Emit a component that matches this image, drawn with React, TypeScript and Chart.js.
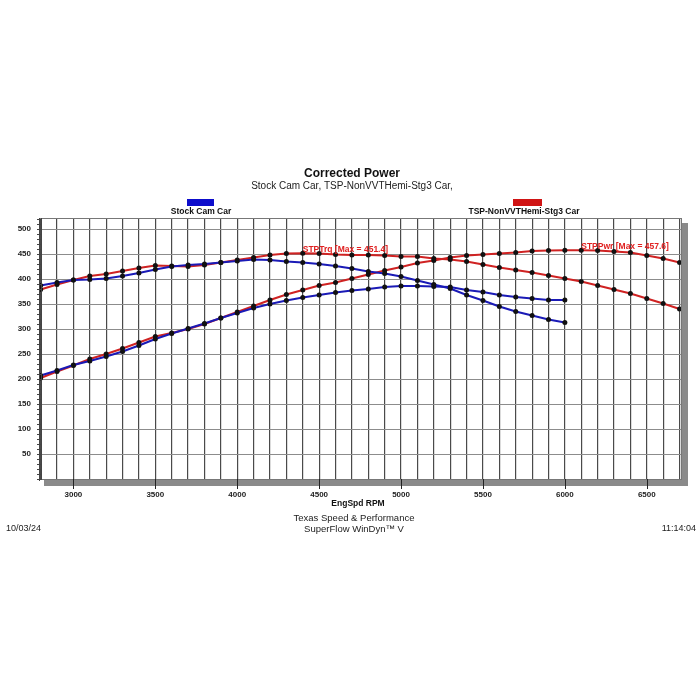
import React, { useEffect, useRef } from 'react';
import { Chart, registerables } from 'chart.js';

Chart.register(...registerables);

const FONT = '"Liberation Sans", Arial, sans-serif';

const titleText = 'Corrected Power';
const subtitleText = 'Stock Cam Car, TSP-NonVVTHemi-Stg3 Car,';
const carNames = ['Stock Cam Car', 'TSP-NonVVTHemi-Stg3 Car'];
const carColors = ['#1a1ab6', '#cf2222'];
const xAxisTitle = 'EngSpd RPM';
const footerLines = ['Texas Speed & Performance', 'SuperFlow WinDyn\u2122 V'];
const footerDate = '10/03/24';
const footerTime = '11:14:04';
const maxLabelNames = ['STPTrq', 'STPPwr'];

const rpmStock = [
  2800, 2900, 3000, 3100, 3200, 3300, 3400, 3500, 3600, 3700, 3800, 3900, 4000,
  4100, 4200, 4300, 4400, 4500, 4600, 4700, 4800, 4900, 5000, 5100, 5200, 5300,
  5400, 5500, 5600, 5700, 5800, 5900, 6000,
];
const stockTorque = [
  387, 393, 398, 399, 401, 406, 412, 419, 425, 428, 430, 433, 436,
  439, 438, 435, 433, 430, 426, 421, 415, 411, 405, 397, 389, 381,
  368, 357, 345, 335, 327, 319, 313,
];
const stockPower = [
  207, 217, 228, 236, 245, 255, 267, 280, 291, 301, 311, 322, 332,
  342, 350, 357, 363, 368, 373, 377, 380, 384, 386, 386, 385, 384,
  378, 374, 368, 364, 361, 358, 358,
];

const rpmTsp = [
  2800, 2900, 3000, 3100, 3200, 3300, 3400, 3500, 3600, 3700, 3800, 3900, 4000,
  4100, 4200, 4300, 4400, 4500, 4600, 4700, 4800, 4900, 5000, 5100, 5200, 5300,
  5400, 5500, 5600, 5700, 5800, 5900, 6000, 6100, 6200, 6300, 6400, 6500, 6600,
  6700,
];
const tspTorque = [
  379, 389, 398, 406, 410, 416, 422, 427, 426, 425, 428, 433, 438,
  443, 448, 451, 451.4, 451, 449, 448, 448, 447, 445, 445, 441, 439,
  435, 429, 423, 418, 413, 407, 401, 395, 387, 379, 371, 361, 351,
  340,
];
const tspPower = [
  202, 215, 227, 240, 250, 261, 273, 285, 292, 300, 310, 322, 334,
  346, 358, 369, 378, 387, 393, 401, 409, 417, 424, 432, 437, 443,
  447, 449, 451, 453, 456, 457.2, 457.4, 457.6, 457, 455, 453, 447, 441,
  433,
];

const xGridTicks = [
  2800, 2900, 3000, 3100, 3200, 3300, 3400, 3500, 3600, 3700, 3800, 3900, 4000,
  4100, 4200, 4300, 4400, 4500, 4600, 4700, 4800, 4900, 5000, 5100, 5200, 5300,
  5400, 5500, 5600, 5700, 5800, 5900, 6000, 6100, 6200, 6300, 6400, 6500, 6600,
  6700,
];
const xLabelTicks = [3000, 3500, 4000, 4500, 5000, 5500, 6000, 6500];
const yTicks = [0, 50, 100, 150, 200, 250, 300, 350, 400, 450, 500];
const yMinorStep = 10;

const pts = (xs: number[], ys: number[]) => xs.map((x, i) => ({ x, y: ys[i] }));

const decorPlugin = {
  id: 'decor',
  beforeDraw(chart: any) {
    const { ctx, chartArea: a } = chart;
    ctx.save();
    ctx.fillStyle = '#ffffff';
    ctx.fillRect(0, 0, chart.width, chart.height);
    // shadow
    ctx.fillStyle = '#8a8a8a';
    ctx.fillRect(a.left + 5, a.bottom, a.right - a.left + 1, 7);
    ctx.fillRect(a.right, a.top + 5, 6, a.bottom - a.top + 2);
    ctx.restore();
  },
  afterDraw(chart: any) {
    const { ctx, chartArea: a, scales } = chart;
    const xs = scales.x;
    const ys = scales.y;
    ctx.save();
    // border
    ctx.strokeStyle = '#777';
    ctx.lineWidth = 1;
    ctx.strokeRect(a.left + 0.5, a.top + 0.5, a.right - a.left - 1, a.bottom - a.top);
    // left axis ruler
    ctx.strokeStyle = '#444';
    ctx.beginPath();
    ctx.moveTo(a.left + 0.5, a.top);
    ctx.lineTo(a.left + 0.5, a.bottom + 2);
    ctx.moveTo(a.left + 2.5, a.top);
    ctx.lineTo(a.left + 2.5, a.bottom);
    for (let v = 0; v <= ys.max; v += yMinorStep) {
      const py = Math.round(ys.getPixelForValue(v)) + 0.5;
      ctx.moveTo(a.left - 2, py);
      ctx.lineTo(a.left + 3, py);
    }
    ctx.stroke();
    // x major tick marks through shadow
    ctx.strokeStyle = '#222';
    ctx.beginPath();
    xLabelTicks.forEach((v) => {
      const px = Math.round(xs.getPixelForValue(v)) + 0.5;
      ctx.moveTo(px, a.bottom);
      ctx.lineTo(px, a.bottom + 10);
    });
    ctx.stroke();

    // titles
    ctx.fillStyle = '#111';
    ctx.textAlign = 'center';
    ctx.textBaseline = 'middle';
    ctx.font = `bold 12px ${FONT}`;
    ctx.fillText(titleText, 352, 174);
    ctx.font = `10px ${FONT}`;
    ctx.fillStyle = '#222';
    ctx.fillText(subtitleText, 352, 186);

    // legend
    const legendBoxes = [
      { x: 187, w: 27, cx: 201 },
      { x: 513, w: 29, cx: 524 },
    ];
    legendBoxes.forEach((b, i) => {
      ctx.fillStyle = i === 0 ? '#0d0dcc' : '#d01414';
      ctx.fillRect(b.x, 199, b.w, 7);
      ctx.fillStyle = '#111';
      ctx.font = `bold 8.5px ${FONT}`;
      ctx.fillText(carNames[i], b.cx, 212);
    });

    // axis title and footer
    ctx.font = `bold 8.5px ${FONT}`;
    ctx.fillStyle = '#111';
    ctx.fillText(xAxisTitle, 358, 504);
    ctx.font = `9.5px ${FONT}`;
    ctx.fillStyle = '#222';
    ctx.fillText(footerLines[0], 354, 518);
    ctx.fillText(footerLines[1], 354, 529);
    ctx.textAlign = 'left';
    ctx.font = `9px ${FONT}`;
    ctx.fillText(footerDate, 6, 529);
    ctx.textAlign = 'right';
    ctx.fillText(footerTime, 696, 529);

    // max labels for TSP datasets (indexes 2 and 3)
    [2, 3].forEach((di, k) => {
      const ds = chart.data.datasets[di];
      let best = ds.data[0];
      ds.data.forEach((p: any) => {
        if (p.y > best.y) best = p;
      });
      const px = xs.getPixelForValue(best.x);
      const py = ys.getPixelForValue(best.y);
      ctx.font = `bold 8.5px ${FONT}`;
      ctx.fillStyle = '#e02020';
      ctx.textAlign = 'left';
      ctx.textBaseline = 'bottom';
      ctx.fillText(`${maxLabelNames[k]} [Max = ${best.y.toFixed(1)}]`, px, py + 1);
    });
    ctx.restore();
  },
};

export default function App() {
  const ref = useRef<HTMLCanvasElement | null>(null);
  useEffect(() => {
    if (!ref.current) return;
    const mk = (label: string, color: string, data: any) => ({
      label,
      data,
      borderColor: color,
      borderWidth: 2,
      pointRadius: 2.5,
      pointBackgroundColor: '#111',
      pointBorderWidth: 0,
      pointHoverRadius: 2.5,
      tension: 0,
      fill: false,
    });
    const chart = new Chart(ref.current, {
      type: 'line',
      data: {
        datasets: [
          mk(carNames[0] + ' Trq', carColors[0], pts(rpmStock, stockTorque)),
          mk(carNames[0] + ' Pwr', carColors[0], pts(rpmStock, stockPower)),
          mk(carNames[1] + ' Trq', carColors[1], pts(rpmTsp, tspTorque)),
          mk(carNames[1] + ' Pwr', carColors[1], pts(rpmTsp, tspPower)),
        ],
      },
      options: {
        animation: false,
        responsive: false,
        events: [],
        layout: { padding: { left: 9, right: 18, top: 218, bottom: 191 } },
        plugins: { legend: { display: false }, title: { display: false }, tooltip: { enabled: false } },
        scales: {
          x: {
            type: 'linear',
            min: 2790,
            max: 6715,
            afterBuildTicks: (s: any) => {
              s.ticks = xGridTicks.map((v) => ({ value: v }));
            },
            afterFit: (s: any) => {
              s.height = 30;
            },
            grid: { color: '#4a4a4a', lineWidth: 1.2, drawTicks: false },
            border: { display: false },
            ticks: {
              autoSkip: false,
              maxRotation: 0,
              minRotation: 0,
              padding: 11,
              color: '#222',
              font: { family: FONT, size: 8, weight: 'bold' },
              callback: (v: any) => (xLabelTicks.includes(Number(v)) ? String(v) : ''),
            },
          },
          y: {
            type: 'linear',
            min: 0,
            max: 522,
            afterBuildTicks: (s: any) => {
              s.ticks = yTicks.map((v) => ({ value: v }));
            },
            afterFit: (s: any) => {
              s.width = 30;
            },
            grid: { color: '#8c8c8c', lineWidth: 1, drawTicks: false },
            border: { display: false },
            ticks: {
              padding: 8,
              color: '#222',
              font: { family: FONT, size: 8, weight: 'bold' },
              callback: (v: any) => (Number(v) === 0 ? '' : String(v)),
            },
          },
        },
      },
      plugins: [decorPlugin],
    } as any);
    return () => chart.destroy();
  }, []);
  return (
    <div style={{ position: 'absolute', left: 0, top: 0, width: 700, height: 700, background: '#fff' }}>
      <canvas ref={ref} width={700} height={700} style={{ width: 700, height: 700, display: 'block' }} />
    </div>
  );
}
